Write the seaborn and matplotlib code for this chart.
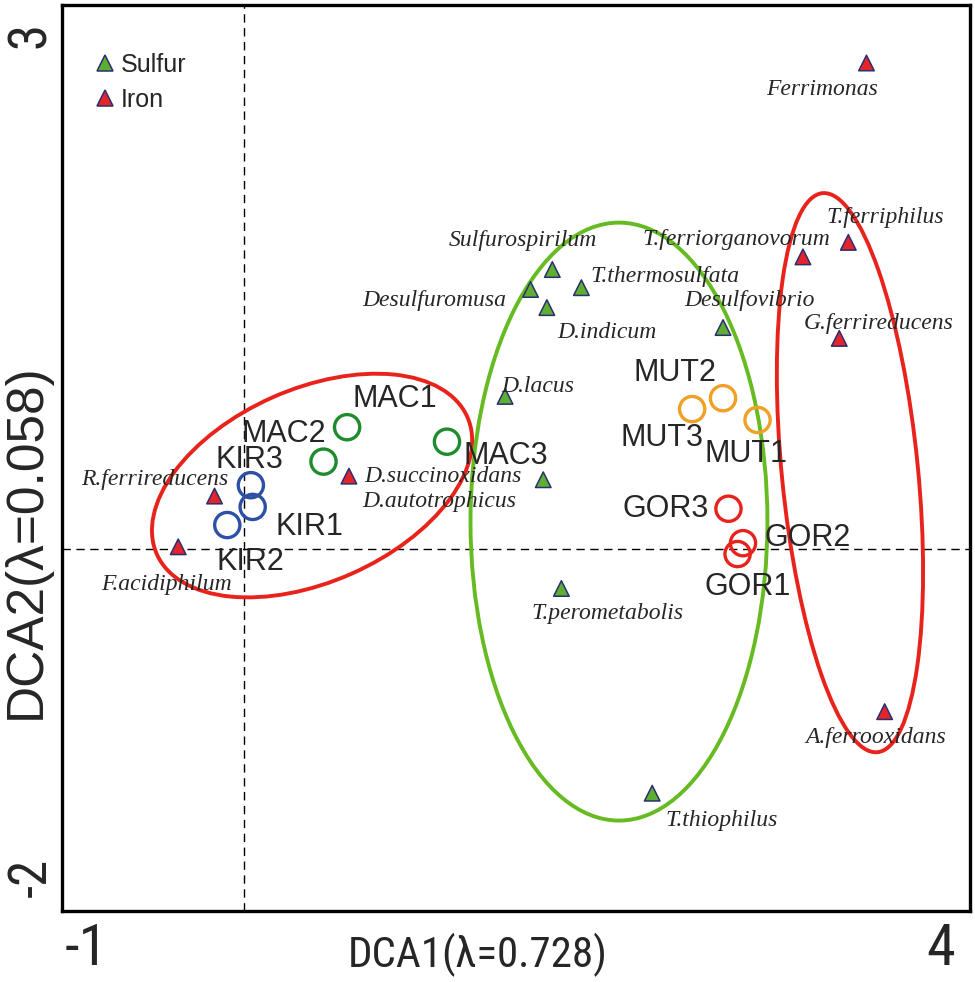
import numpy as np
import pandas as pd
import matplotlib
matplotlib.use("Agg")
import matplotlib.pyplot as plt
import matplotlib.transforms as mtrans
from matplotlib import font_manager as fm
import seaborn as sns
from matplotlib.patches import Ellipse

# ---------------- data ----------------
species = ["Ferrimonas", "T.ferriphilus", "T.ferriorganovorum", "G.ferrireducens",
           "A.ferrooxidans", "Desulfovibrio", "Sulfurospirilum", "T.thermosulfata",
           "Desulfuromusa", "D.indicum", "D.lacus", "D.autotrophicus",
           "D.succinoxidans", "R.ferrireducens", "F.acidiphilum", "T.perometabolis",
           "T.thiophilus"]
species_x = [3.43, 3.33, 3.08, 3.28, 3.53, 2.64, 1.70, 1.86, 1.58, 1.67, 1.44, 1.65,
             0.58, -0.16, -0.36, 1.75, 2.25]
species_y = [2.68, 1.69, 1.61, 1.16, -0.90, 1.22, 1.54, 1.44, 1.43, 1.33, 0.84, 0.38,
             0.40, 0.29, 0.01, -0.22, -1.35]
species_type = ["Iron", "Iron", "Iron", "Iron", "Iron", "Sulfur", "Sulfur", "Sulfur",
                "Sulfur", "Sulfur", "Sulfur", "Sulfur", "Iron", "Iron", "Iron",
                "Sulfur", "Sulfur"]

samples = ["KIR1", "KIR2", "KIR3", "MAC1", "MAC2", "MAC3",
           "MUT1", "MUT2", "MUT3", "GOR1", "GOR2", "GOR3"]
sample_x = [0.05, -0.09, 0.04, 0.57, 0.44, 1.12, 2.83, 2.64, 2.47, 2.72, 2.75, 2.67]
sample_y = [0.23, 0.13, 0.35, 0.67, 0.48, 0.59, 0.71, 0.83, 0.77, -0.03, 0.03, 0.22]
sample_site = ["KIR"] * 3 + ["MAC"] * 3 + ["MUT"] * 3 + ["GOR"] * 3

# group ellipses (centre x, centre y, width, height, angle)
ell_cx = [0.377, 2.067, 3.339]
ell_cy = [0.348, 0.149, 0.419]
ell_w = [1.87, 1.635, 0.75]
ell_h = [1.066, 3.30, 3.10]
ell_ang = [23.9, 0.0, 5.6]
ell_col = ["#E8231C", "#66BB22", "#E8231C"]

x_ticks = [-1, 0, 1, 2, 3, 4]
x_ticklabels = ["-1", "", "", "", "", "4"]
y_ticks = [-2, -1, 0, 1, 2, 3]
y_ticklabels = ["-2", "", "", "", "", "3"]

# label offsets in pixels (dx right, dy down)
sp_off = {"Ferrimonas": (-44, 27), "T.ferriphilus": (37, -25),
          "T.ferriorganovorum": (-67, -17), "G.ferrireducens": (39, -15),
          "A.ferrooxidans": (-9, 26), "Desulfovibrio": (26, -27),
          "Sulfurospirilum": (-29, -29), "T.thermosulfata": (84, -11),
          "Desulfuromusa": (-96, 11), "D.indicum": (60, 25), "D.lacus": (33, -10),
          "D.autotrophicus": (-104, 22), "D.succinoxidans": (94, 0),
          "R.ferrireducens": (-60, -17), "F.acidiphilum": (-12, 38),
          "T.perometabolis": (46, 25), "T.thiophilus": (69, 27)}
sa_off = {"KIR3": (-1, -25), "KIR1": (57, 20), "KIR2": (23, 37),
          "MAC1": (48, -28), "MAC2": (-40, -28), "MAC3": (59, 14),
          "MUT2": (-48, -25), "MUT3": (-30, 29), "MUT1": (-12, 34),
          "GOR3": (-63, 0), "GOR2": (65, -5), "GOR1": (10, 33)}

site_colors = {"KIR": "#2D4FA6", "MAC": "#1E8C2E", "MUT": "#F0A024", "GOR": "#E8231C"}
type_colors = {"Sulfur": "#5DAE32", "Iron": "#E3242B"}

sp_df = pd.DataFrame({"name": species, "x": species_x, "y": species_y, "type": species_type})
sa_df = pd.DataFrame({"name": samples, "x": sample_x, "y": sample_y, "site": sample_site})

# ---------------- fonts ----------------
sns.set_style("white")
plt.rcParams["font.family"] = ["Liberation Sans", "DejaVu Sans"]

_fonts = fm.fontManager.ttflist
_names = {f.name for f in _fonts}
narrow_family, narrow_stretch = None, "normal"
for cand in ["Liberation Sans Narrow", "Arial Narrow", "Roboto Condensed",
             "Noto Sans Condensed", "Open Sans Condensed", "DejaVu Sans Condensed"]:
    if cand in _names:
        narrow_family = cand
        break
if narrow_family is None:
    for f in _fonts:
        if f.stretch in ("condensed", "semi-condensed") and f.style == "normal" \
                and f.name in ("Noto Sans", "Open Sans", "DejaVu Sans", "Roboto"):
            narrow_family, narrow_stretch = f.name, f.stretch
            break
if narrow_family is None:
    narrow_fam = ["Liberation Sans", "DejaVu Sans"]
    xlab_size, xtick_size, ytick_size = 26.5, 38, 36
else:
    narrow_fam = [narrow_family, "Liberation Sans", "DejaVu Sans"]
    xlab_size, xtick_size, ytick_size = 31, 42, 38

# ---------------- plot ----------------
fig = plt.figure(figsize=(9.75, 9.82), dpi=100)
ax = fig.add_axes([62 / 975, 1 - 911 / 982, 908 / 975, 906 / 982])

ax.axvline(0, color="black", lw=1.0, ls=(0, (6, 4)), zorder=1)
ax.axhline(0, color="black", lw=1.0, ls=(0, (6, 4)), zorder=1)

for cx, cy, w, h, a, c in zip(ell_cx, ell_cy, ell_w, ell_h, ell_ang, ell_col):
    ax.add_patch(Ellipse((cx, cy), w, h, angle=a, fill=False, ec=c, lw=2.8, zorder=2))

sns.scatterplot(data=sp_df, x="x", y="y", hue="type", hue_order=["Sulfur", "Iron"],
                palette=type_colors, marker="^", s=125, edgecolor="#2A2F6E",
                linewidth=1.1, ax=ax, zorder=4)

for site, col in site_colors.items():
    sub = sa_df[sa_df.site == site]
    sns.scatterplot(data=sub, x="x", y="y", marker="o", s=330, color=col,
                    facecolor="none", edgecolor=col, linewidth=2.4, ax=ax,
                    zorder=5, legend=False)

for _, r in sp_df.iterrows():
    dx, dy = sp_off[r["name"]]
    ax.annotate(r["name"], (r["x"], r["y"]), xytext=(dx, -dy), textcoords="offset pixels",
                ha="center", va="center", fontsize=17, style="italic",
                family=["Liberation Serif", "DejaVu Serif"], zorder=6)

for _, r in sa_df.iterrows():
    dx, dy = sa_off[r["name"]]
    ax.annotate(r["name"], (r["x"], r["y"]), xytext=(dx, -dy), textcoords="offset pixels",
                ha="center", va="center", fontsize=22, zorder=6)

ax.set_xlim(-1, 4)
ax.set_ylim(-2, 3)
ax.set_xticks(x_ticks)
ax.set_xticklabels(x_ticklabels, fontsize=xtick_size, family=narrow_fam,
                   fontstretch=narrow_stretch)
ax.set_yticks(y_ticks)
ax.set_yticklabels(y_ticklabels, fontsize=ytick_size, rotation=90, va="center",
                   family=narrow_fam, fontstretch=narrow_stretch)
ax.tick_params(axis="both", direction="out", length=5, width=1.2, color="black")
ax.tick_params(axis="x", pad=3)
ax.tick_params(axis="y", pad=-1)

xl = ax.get_xticklabels()
xl[0].set_ha("left")
xl[-1].set_ha("right")
yl = ax.get_yticklabels()
yl[0].set_va("bottom")
yl[-1].set_va("top")


def shift(lbl, dx_px, dy_px):
    lbl.set_transform(lbl.get_transform() +
                      mtrans.ScaledTranslation(dx_px / 100, dy_px / 100, fig.dpi_scale_trans))


shift(xl[0], 3, 0)
shift(xl[-1], -15, 0)
shift(yl[0], 0, 14)
shift(yl[-1], 0, -17)

ax.set_xlabel("DCA1(λ=0.728)", fontsize=xlab_size, family=narrow_fam,
              fontstretch=narrow_stretch, va="top")
ax.xaxis.set_label_coords(0.458, -0.024)
ax.set_ylabel("DCA2(λ=0.058)", fontsize=37)
ax.yaxis.set_label_coords(-0.012, 0.408)

for s in ax.spines.values():
    s.set_visible(True)
    s.set_color("black")
    s.set_linewidth(2.4)

h, l = ax.get_legend_handles_labels()
leg = ax.legend(h, l, loc="upper left", bbox_to_anchor=(0.0195, 0.958), frameon=False,
                fontsize=18, handletextpad=0.05, handlelength=1.2, labelspacing=0.44,
                borderaxespad=0, markerscale=1.0)

fig.savefig("out.png", dpi=100)
